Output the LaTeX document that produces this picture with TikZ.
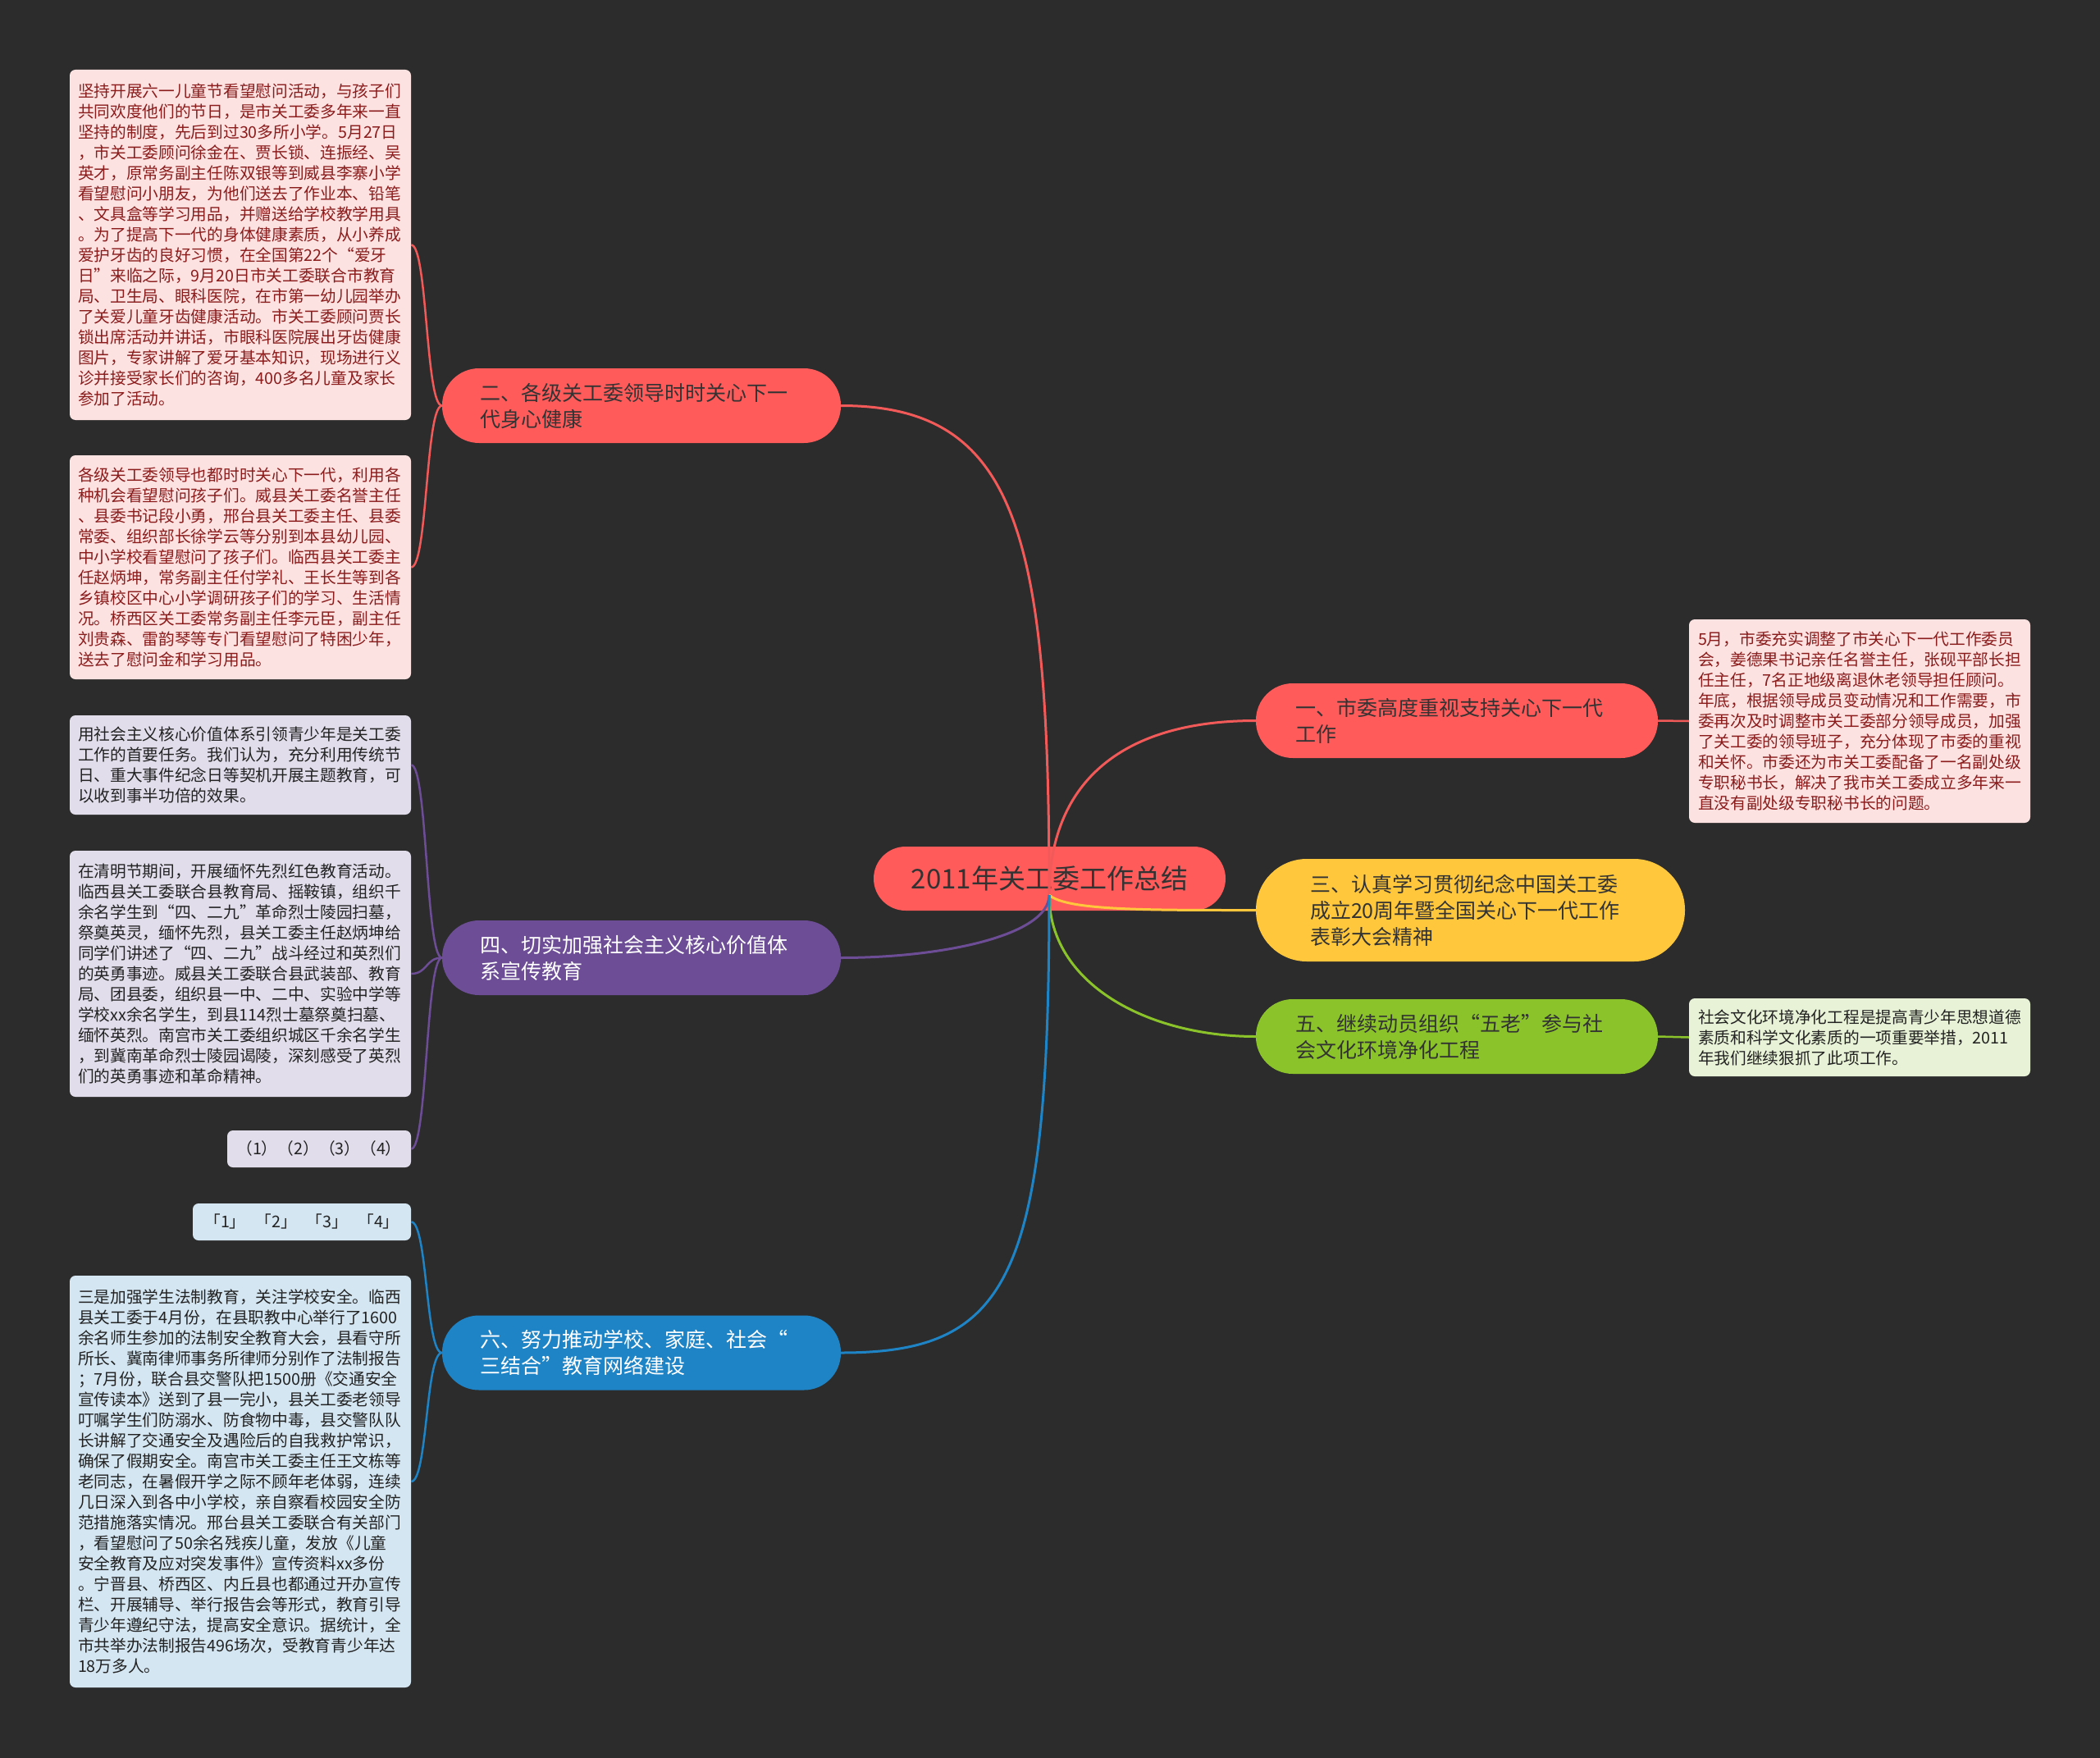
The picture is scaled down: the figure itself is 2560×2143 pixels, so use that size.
\documentclass[tikz,border=0pt]{standalone}
\usepackage{fontspec}
\setmainfont{Noto Sans CJK SC}
\usetikzlibrary{calc}
\definecolor{bg}{HTML}{2C2C2C}
\definecolor{redc}{HTML}{FF5B5B}
\definecolor{redline}{HTML}{F25A5A}
\definecolor{yellowc}{HTML}{FFC73C}
\definecolor{greenc}{HTML}{8BC42A}
\definecolor{purplec}{HTML}{6C4D96}
\definecolor{bluec}{HTML}{1F84C6}
\definecolor{darktext}{HTML}{333333}
\definecolor{redleaf}{HTML}{FDE2E2}
\definecolor{redleaftext}{HTML}{8A1C1C}
\definecolor{purpleleaf}{HTML}{E2DDEB}
\definecolor{blueleaf}{HTML}{D4E6F2}
\definecolor{greenleaf}{HTML}{E7F2D6}
\definecolor{leaftext}{HTML}{222222}
\tikzset{
  hubbox/.style={fill=redc, rounded corners=39pt, minimum width=429pt, minimum height=78pt,
    inner sep=0pt, text=darktext, font=\fontsize{33}{40}\selectfont},
  branchbox/.style={rounded corners=45pt, inner xsep=46pt, inner ysep=0pt, align=left,
    minimum height=91pt, text width=394pt, font=\fontsize{25}{32}\selectfont},
  leafbox/.style={rounded corners=7pt, inner xsep=10pt, inner ysep=0pt, align=left,
    text width=396pt, font=\fontsize{19.7}{25}\selectfont},
  smallleaf/.style={rounded corners=7pt, inner sep=0pt, align=center,
    minimum height=45pt, font=\fontsize{19.7}{25}\selectfont},
  conn/.style={line width=3pt},
  leafconn/.style={line width=2.5pt},
}
\begin{document}
\begin{tikzpicture}[x=1pt,y=-1pt]
\useasboundingbox (0,0) rectangle (2560,2143);
\fill[bg] (0,0) rectangle (2560,2143);

% centre
\node[hubbox] (hub) at (1279.5,1071) {2011年关工委工作总结};
\coordinate (h) at (1279,1091);

% branches
\node[branchbox, fill=redc, text=darktext] (b2) at (782,494.5)
  {二、各级关工委领导时时关心下一\\代身心健康};
\node[branchbox, fill=redc, text=darktext, inner xsep=48pt, text width=394pt] (b1) at (1776,878.5)
  {一、市委高度重视支持关心下一代\\工作};
\node[branchbox, fill=yellowc, text=darktext, rounded corners=62pt, minimum height=125pt,
  inner xsep=66pt, text width=391pt] (b3) at (1792.5,1109.5)
  {三、认真学习贯彻纪念中国关工委\\成立20周年暨全国关心下一代工作\\表彰大会精神};
\node[branchbox, fill=greenc, text=darktext, inner xsep=48pt, text width=394pt] (b5) at (1776,1263.5)
  {五、继续动员组织“五老”参与社\\会文化环境净化工程};
\node[branchbox, fill=purplec, text=white] (b4) at (782,1167.5)
  {四、切实加强社会主义核心价值体\\系宣传教育};
\node[branchbox, fill=bluec, text=white] (b6) at (782,1649)
  {六、努力推动学校、家庭、社会“\\三结合”教育网络建设};

% leaves of 二
\node[leafbox, fill=redleaf, text=redleaftext, minimum height=427pt] (l1) at (293,298.5)
  {坚持开展六一儿童节看望慰问活动，与孩子们\\
共同欢度他们的节日，是市关工委多年来一直\\
坚持的制度，先后到过30多所小学。5月27日\\
，市关工委顾问徐金在、贾长锁、连振经、吴\\
英才，原常务副主任陈双银等到威县李寨小学\\
看望慰问小朋友，为他们送去了作业本、铅笔\\
、文具盒等学习用品，并赠送给学校教学用具\\
。为了提高下一代的身体健康素质，从小养成\\
爱护牙齿的良好习惯，在全国第22个“爱牙\\
日”来临之际，9月20日市关工委联合市教育\\
局、卫生局、眼科医院，在市第一幼儿园举办\\
了关爱儿童牙齿健康活动。市关工委顾问贾长\\
锁出席活动并讲话，市眼科医院展出牙齿健康\\
图片，专家讲解了爱牙基本知识，现场进行义\\
诊并接受家长们的咨询，400多名儿童及家长\\
参加了活动。};
\node[leafbox, fill=redleaf, text=redleaftext, minimum height=273pt] (l2) at (293,691.5)
  {各级关工委领导也都时时关心下一代，利用各\\
种机会看望慰问孩子们。威县关工委名誉主任\\
、县委书记段小勇，邢台县关工委主任、县委\\
常委、组织部长徐学云等分别到本县幼儿园、\\
中小学校看望慰问了孩子们。临西县关工委主\\
任赵炳坤，常务副主任付学礼、王长生等到各\\
乡镇校区中心小学调研孩子们的学习、生活情\\
况。桥西区关工委常务副主任李元臣，副主任\\
刘贵森、雷韵琴等专门看望慰问了特困少年，\\
送去了慰问金和学习用品。};

% leaves of 四
\node[leafbox, fill=purpleleaf, text=leaftext, minimum height=121pt] (l3) at (293,932.5)
  {用社会主义核心价值体系引领青少年是关工委\\
工作的首要任务。我们认为，充分利用传统节\\
日、重大事件纪念日等契机开展主题教育，可\\
以收到事半功倍的效果。};
\node[leafbox, fill=purpleleaf, text=leaftext, minimum height=300pt] (l4) at (293,1187)
  {在清明节期间，开展缅怀先烈红色教育活动。\\
临西县关工委联合县教育局、摇鞍镇，组织千\\
余名学生到“四、二九”革命烈士陵园扫墓，\\
祭奠英灵，缅怀先烈，县关工委主任赵炳坤给\\
同学们讲述了“四、二九”战斗经过和英烈们\\
的英勇事迹。威县关工委联合县武装部、教育\\
局、团县委，组织县一中、二中、实验中学等\\
学校xx余名学生，到县114烈士墓祭奠扫墓、\\
缅怀英烈。南宫市关工委组织城区千余名学生\\
，到冀南革命烈士陵园谒陵，深刻感受了英烈\\
们的英勇事迹和革命精神。};
\node[smallleaf, fill=purpleleaf, text=leaftext, minimum width=224pt] (l5) at (389,1400.5)
  {（1）（2）（3）（4）};

% leaves of 六
\node[smallleaf, fill=blueleaf, text=leaftext, minimum width=266pt] (l6) at (368,1489.5)
  {「1」\hspace{12pt}「2」\hspace{12pt}「3」\hspace{12pt}「4」};
\node[leafbox, fill=blueleaf, text=leaftext, minimum height=502pt] (l7) at (293,1806)
  {三是加强学生法制教育，关注学校安全。临西\\
县关工委于4月份，在县职教中心举行了1600\\
余名师生参加的法制安全教育大会，县看守所\\
所长、冀南律师事务所律师分别作了法制报告\\
；7月份，联合县交警队把1500册《交通安全\\
宣传读本》送到了县一完小，县关工委老领导\\
叮嘱学生们防溺水、防食物中毒，县交警队队\\
长讲解了交通安全及遇险后的自我救护常识，\\
确保了假期安全。南宫市关工委主任王文栋等\\
老同志，在暑假开学之际不顾年老体弱，连续\\
几日深入到各中小学校，亲自察看校园安全防\\
范措施落实情况。邢台县关工委联合有关部门\\
，看望慰问了50余名残疾儿童，发放《儿童\\
安全教育及应对突发事件》宣传资料xx多份\\
。宁晋县、桥西区、内丘县也都通过开办宣传\\
栏、开展辅导、举行报告会等形式，教育引导\\
青少年遵纪守法，提高安全意识。据统计，全\\
市共举办法制报告496场次，受教育青少年达\\
18万多人。};

% right leaves
\node[leafbox, fill=redleaf, text=redleaftext, minimum height=248pt, inner xsep=11pt, text width=394pt] (r1) at (2267,879)
  {5月，市委充实调整了市关心下一代工作委员\\
会，姜德果书记亲任名誉主任，张砚平部长担\\
任主任，7名正地级离退休老领导担任顾问。\\
年底，根据领导成员变动情况和工作需要，市\\
委再次及时调整市关工委部分领导成员，加强\\
了关工委的领导班子，充分体现了市委的重视\\
和关怀。市委还为市关工委配备了一名副处级\\
专职秘书长，解决了我市关工委成立多年来一\\
直没有副处级专职秘书长的问题。};
\node[leafbox, fill=greenleaf, text=leaftext, minimum height=95pt, inner xsep=11pt, text width=394pt] (r2) at (2267,1264.5)
  {社会文化环境净化工程是提高青少年思想道德\\
素质和科学文化素质的一项重要举措，2011\\
年我们继续狠抓了此项工作。};

% hub connectors
\draw[conn, redline] (h) .. controls (1279,650) and (1240,494.5) .. (b2.east);
\draw[conn, redline] (h) .. controls (1279,960) and (1360,878.5) .. (b1.west);
\draw[conn, yellowc] (h) .. controls (1300,1110) and (1400,1109.5) .. (b3.west);
\draw[conn, greenc] (h) .. controls (1279,1200) and (1400,1263.5) .. (b5.west);
\draw[conn, purplec] (h) .. controls (1279,1140) and (1150,1167.5) .. (b4.east);
\draw[conn, bluec] (h) .. controls (1279,1560) and (1230,1649) .. (b6.east);

% leaf connectors
\foreach \l in {l1,l2}
  \draw[leafconn, redline] (b2.west) .. controls ($(b2.west)+(-20,0)$) and ($(\l.east)+(20,0)$) .. (\l.east);
\foreach \l in {l3,l4,l5}
  \draw[leafconn, purplec] (b4.west) .. controls ($(b4.west)+(-20,0)$) and ($(\l.east)+(20,0)$) .. (\l.east);
\foreach \l in {l6,l7}
  \draw[leafconn, bluec] (b6.west) .. controls ($(b6.west)+(-20,0)$) and ($(\l.east)+(20,0)$) .. (\l.east);
\draw[leafconn, redline] (b1.east) -- (r1.west);
\draw[leafconn, greenc] (b5.east) -- (r2.west);
\end{tikzpicture}
\end{document}
